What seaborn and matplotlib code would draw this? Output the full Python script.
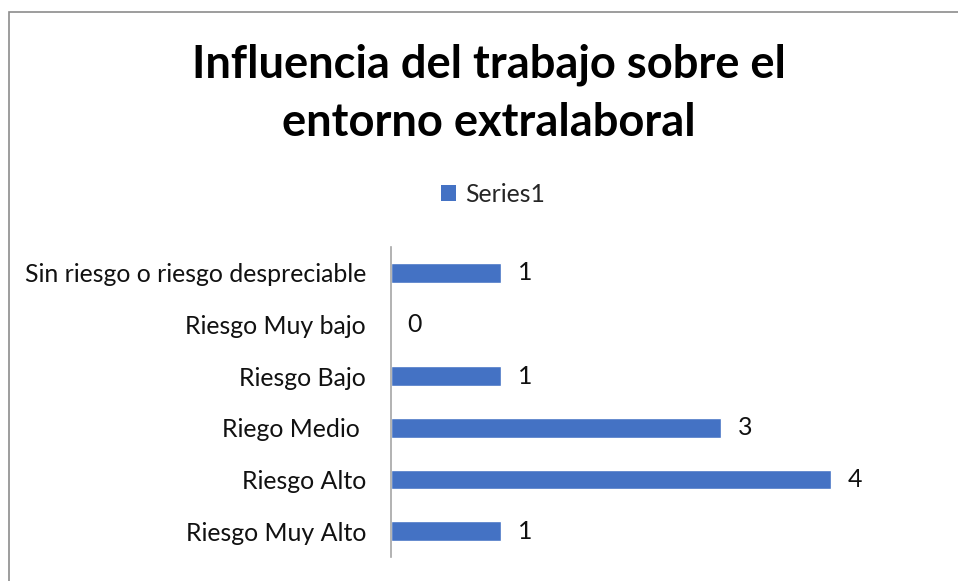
import numpy as np
import pandas as pd
import seaborn as sns
import matplotlib.pyplot as plt
from matplotlib.patches import Rectangle, Patch

# --- Data ---
categories = ['Sin riesgo o riesgo despreciable', 'Riesgo Muy bajo', 'Riesgo Bajo',
              'Riego Medio ', 'Riesgo Alto', 'Riesgo Muy Alto']
values = [1, 0, 1, 3, 4, 1]
series_name = 'Series1'

df = pd.DataFrame({'categoria': categories, 'valor': values})

sns.set_style('white')
plt.rcParams['font.family'] = ['Lato', 'DejaVu Sans']

fig = plt.figure(figsize=(9.58, 5.81), dpi=100)
ax = fig.add_axes([391 / 958, 1 - 557 / 581, 550 / 958, 310 / 581])

bar_color = '#4472C4'
sns.barplot(data=df, y='categoria', x='valor', orient='h', color=bar_color,
            width=0.38, ax=ax, saturation=1)

ax.set_xlim(0, 5)
ax.set_ylim(5.5, -0.5)
ax.set_xlabel('')
ax.set_ylabel('')
ax.set_xticks([])
ax.tick_params(axis='y', length=0, pad=18, labelsize=17.9, labelcolor='#111111')

for s in ['top', 'right', 'bottom']:
    ax.spines[s].set_visible(False)
ax.spines['left'].set_color('#A6A6A6')
ax.spines['left'].set_linewidth(1.2)

ax.bar_label(ax.containers[0], labels=[str(v) for v in values],
             padding=12, fontsize=17.9, color='#111111')

# title
fig.text(489 / 958, 1 - 94 / 581, 'Influencia del trabajo sobre el\nentorno extralaboral',
         ha='center', va='center', fontsize=32.6, fontweight='bold',
         linespacing=1.48, color='black')

# legend
handle = Patch(facecolor=bar_color, edgecolor='none')
fig.legend([handle], [series_name], loc='center', bbox_to_anchor=(493 / 958, 1 - 194 / 581),
           frameon=False, fontsize=17.8, handlelength=0.6, handleheight=0.6,
           handletextpad=0.4)

# chart area border (Excel-style)
fig.patches.append(Rectangle((9 / 958, -0.1), 1.2, 1 - 12 / 581 + 0.1,
                             transform=fig.transFigure, fill=False,
                             edgecolor='#8C8C8C', linewidth=1.2))

fig.savefig('out.png', dpi=100)
